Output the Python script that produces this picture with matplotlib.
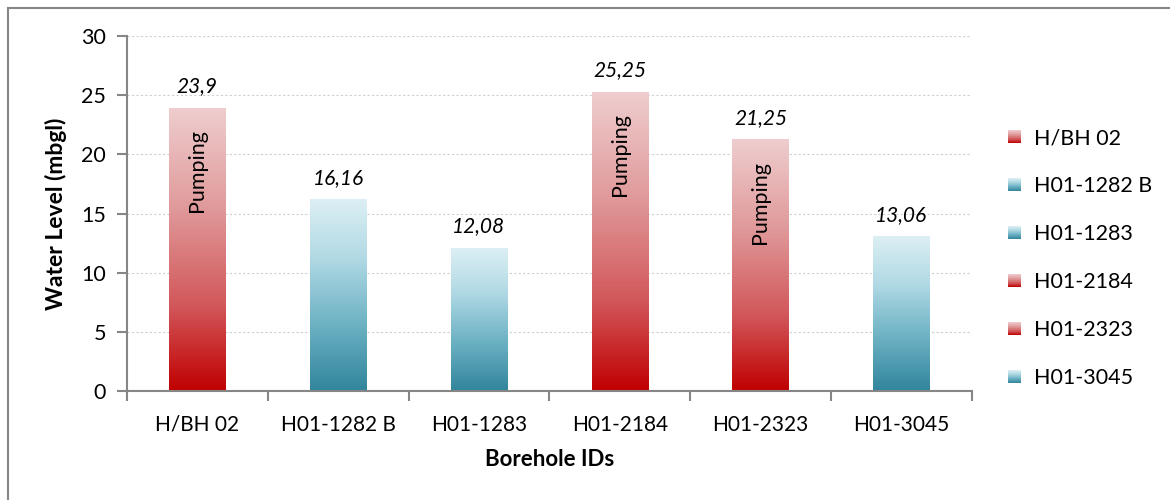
import matplotlib
matplotlib.use("Agg")
import matplotlib.pyplot as plt
import numpy as np
from matplotlib.colors import LinearSegmentedColormap
from matplotlib.legend_handler import HandlerBase
from matplotlib.image import BboxImage
from matplotlib.transforms import Bbox, TransformedBbox
from matplotlib.patches import Patch
from matplotlib.lines import Line2D

plt.rcParams['font.family'] = ['Lato', 'DejaVu Sans']

boreholes = ["H/BH 02", "H01-1282 B", "H01-1283", "H01-2184", "H01-2323", "H01-3045"]
levels = [23.9, 16.16, 12.08, 25.25, 21.25, 13.06]
pumping = [True, False, False, True, True, False]

# bottom -> top gradients
red_cmap = LinearSegmentedColormap.from_list(
    "red", [(0, "#C00000"), (0.3, "#D2575A"), (0.65, "#E09A9B"), (1, "#EFCDCE")])
blue_cmap = LinearSegmentedColormap.from_list(
    "blue", [(0, "#31859C"), (0.35, "#6DB2C4"), (0.7, "#B2DAE5"), (1, "#DCEFF4")])


def gradient_img():
    return np.linspace(0, 1, 256).reshape(-1, 1)


class GradientHandler(HandlerBase):
    def create_artists(self, legend, orig_handle, xdescent, ydescent,
                       width, height, fontsize, trans):
        s = height * 0.85
        x0 = -xdescent + (width - s) / 2
        y0 = -ydescent + (height - s) / 2
        bb = TransformedBbox(Bbox.from_bounds(x0, y0, s, s), trans)
        img = BboxImage(bb, cmap=orig_handle.cmap)
        img.set_data(gradient_img()[::-1])
        return [img]


class GradHandle(Patch):
    def __init__(self, cmap, **kw):
        super().__init__(**kw)
        self.cmap = cmap


fig = plt.figure(figsize=(11.7, 5), dpi=100)
ax = fig.add_axes([0.1085, 0.218, 0.722, 0.71])

x = np.arange(len(boreholes))
width = 0.4
handles = []
for i, (name, h, p) in enumerate(zip(boreholes, levels, pumping)):
    cmap = red_cmap if p else blue_cmap
    ax.imshow(gradient_img(), extent=[i - width / 2, i + width / 2, 0, h],
              aspect="auto", origin="lower", cmap=cmap, zorder=2)
    ax.text(i, h + 1.0, f"{h:g}".replace(".", ","), ha="center", va="bottom",
            fontsize=15, style="italic", zorder=4)
    if p:
        ax.text(i, h - 5.3, "Pumping", rotation=90, ha="center", va="center",
                fontsize=15.5, zorder=4)
    handles.append(GradHandle(cmap, label=name))

ax.set_xlim(-0.5, len(boreholes) - 0.5)
ax.set_ylim(0, 30)
ax.set_yticks(np.arange(0, 31, 5))
ax.set_xticks(x)
ax.set_xticklabels(boreholes, fontsize=15)
ax.set_xticks(np.arange(-0.5, len(boreholes)), minor=True)
ax.tick_params(axis="x", which="major", length=0, pad=17)
ax.tick_params(axis="x", which="minor", length=7, color="#868686", width=1.5)
ax.tick_params(axis="y", labelsize=15.5, length=7, color="#868686", width=1.5, pad=8)

ax.grid(axis="y", color="#CFCFCF", linestyle=(0, (2, 2)), linewidth=0.8, zorder=0)
ax.set_axisbelow(True)
for side in ["top", "right"]:
    ax.spines[side].set_visible(False)
for side in ["left", "bottom"]:
    ax.spines[side].set_color("#868686")
    ax.spines[side].set_linewidth(1.5)

ax.set_ylabel("Water Level (mbgl)", fontsize=16.5, fontweight="bold", labelpad=10)
ax.set_xlabel("Borehole IDs", fontsize=16, fontweight="bold", labelpad=10)

fig.legend(handles=handles, handler_map={GradHandle: GradientHandler()},
           loc="center left", bbox_to_anchor=(0.843, 0.484), frameon=False,
           fontsize=15.5, labelspacing=1.3, handlelength=0.8, handletextpad=0.5)

# outer chart frame
fig.add_artist(Line2D([8 / 1170, 1.0], [1 - 8 / 500, 1 - 8 / 500],
                      transform=fig.transFigure, color="#868686", linewidth=1.5))
fig.add_artist(Line2D([8 / 1170, 8 / 1170], [0.0, 1 - 8 / 500],
                      transform=fig.transFigure, color="#868686", linewidth=1.5))

fig.savefig("out.png", dpi=100)
